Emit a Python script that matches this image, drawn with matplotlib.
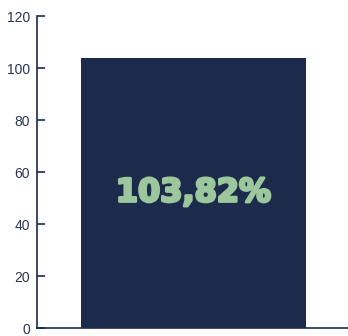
import matplotlib
matplotlib.use('Agg')
import matplotlib.pyplot as plt
import matplotlib.patheffects as pe

# single bar with its percentage written inside
categories = ['']
values = [103.82]
labels = ['103,82%']
yticks = [0, 20, 40, 60, 80, 100, 120]

navy = '#1c2b4b'
green = '#9cc79c'

fig = plt.figure(figsize=(3.48, 3.36), dpi=100)
ax = fig.add_axes([37/348, 8/336, 311/348, 312/336])

ax.bar(range(len(values)), values, width=1.0, color=navy)
for i, v in enumerate(values):
    ax.text(i, v / 2, labels[i], ha='center', va='center', color=green,
            fontsize=23, fontweight='heavy', family='DejaVu Sans',
            path_effects=[pe.withStroke(linewidth=2, foreground=green)])

ax.set_xlim(-0.5 - 0.196, 0.5 + 0.187)
ax.set_ylim(0, 120)
ax.set_yticks(yticks)
ax.set_xticks([])
for s in ['top', 'right']:
    ax.spines[s].set_visible(False)
for s in ['left', 'bottom']:
    ax.spines[s].set_color(navy)
    ax.spines[s].set_linewidth(1.2)
ax.tick_params(axis='y', direction='in', length=6, width=1.2, color=navy,
               labelcolor='#2a3550', labelsize=10, pad=5)
for t in ax.get_yticklabels():
    t.set_family('Liberation Sans')

fig.savefig('out.png', dpi=100)
